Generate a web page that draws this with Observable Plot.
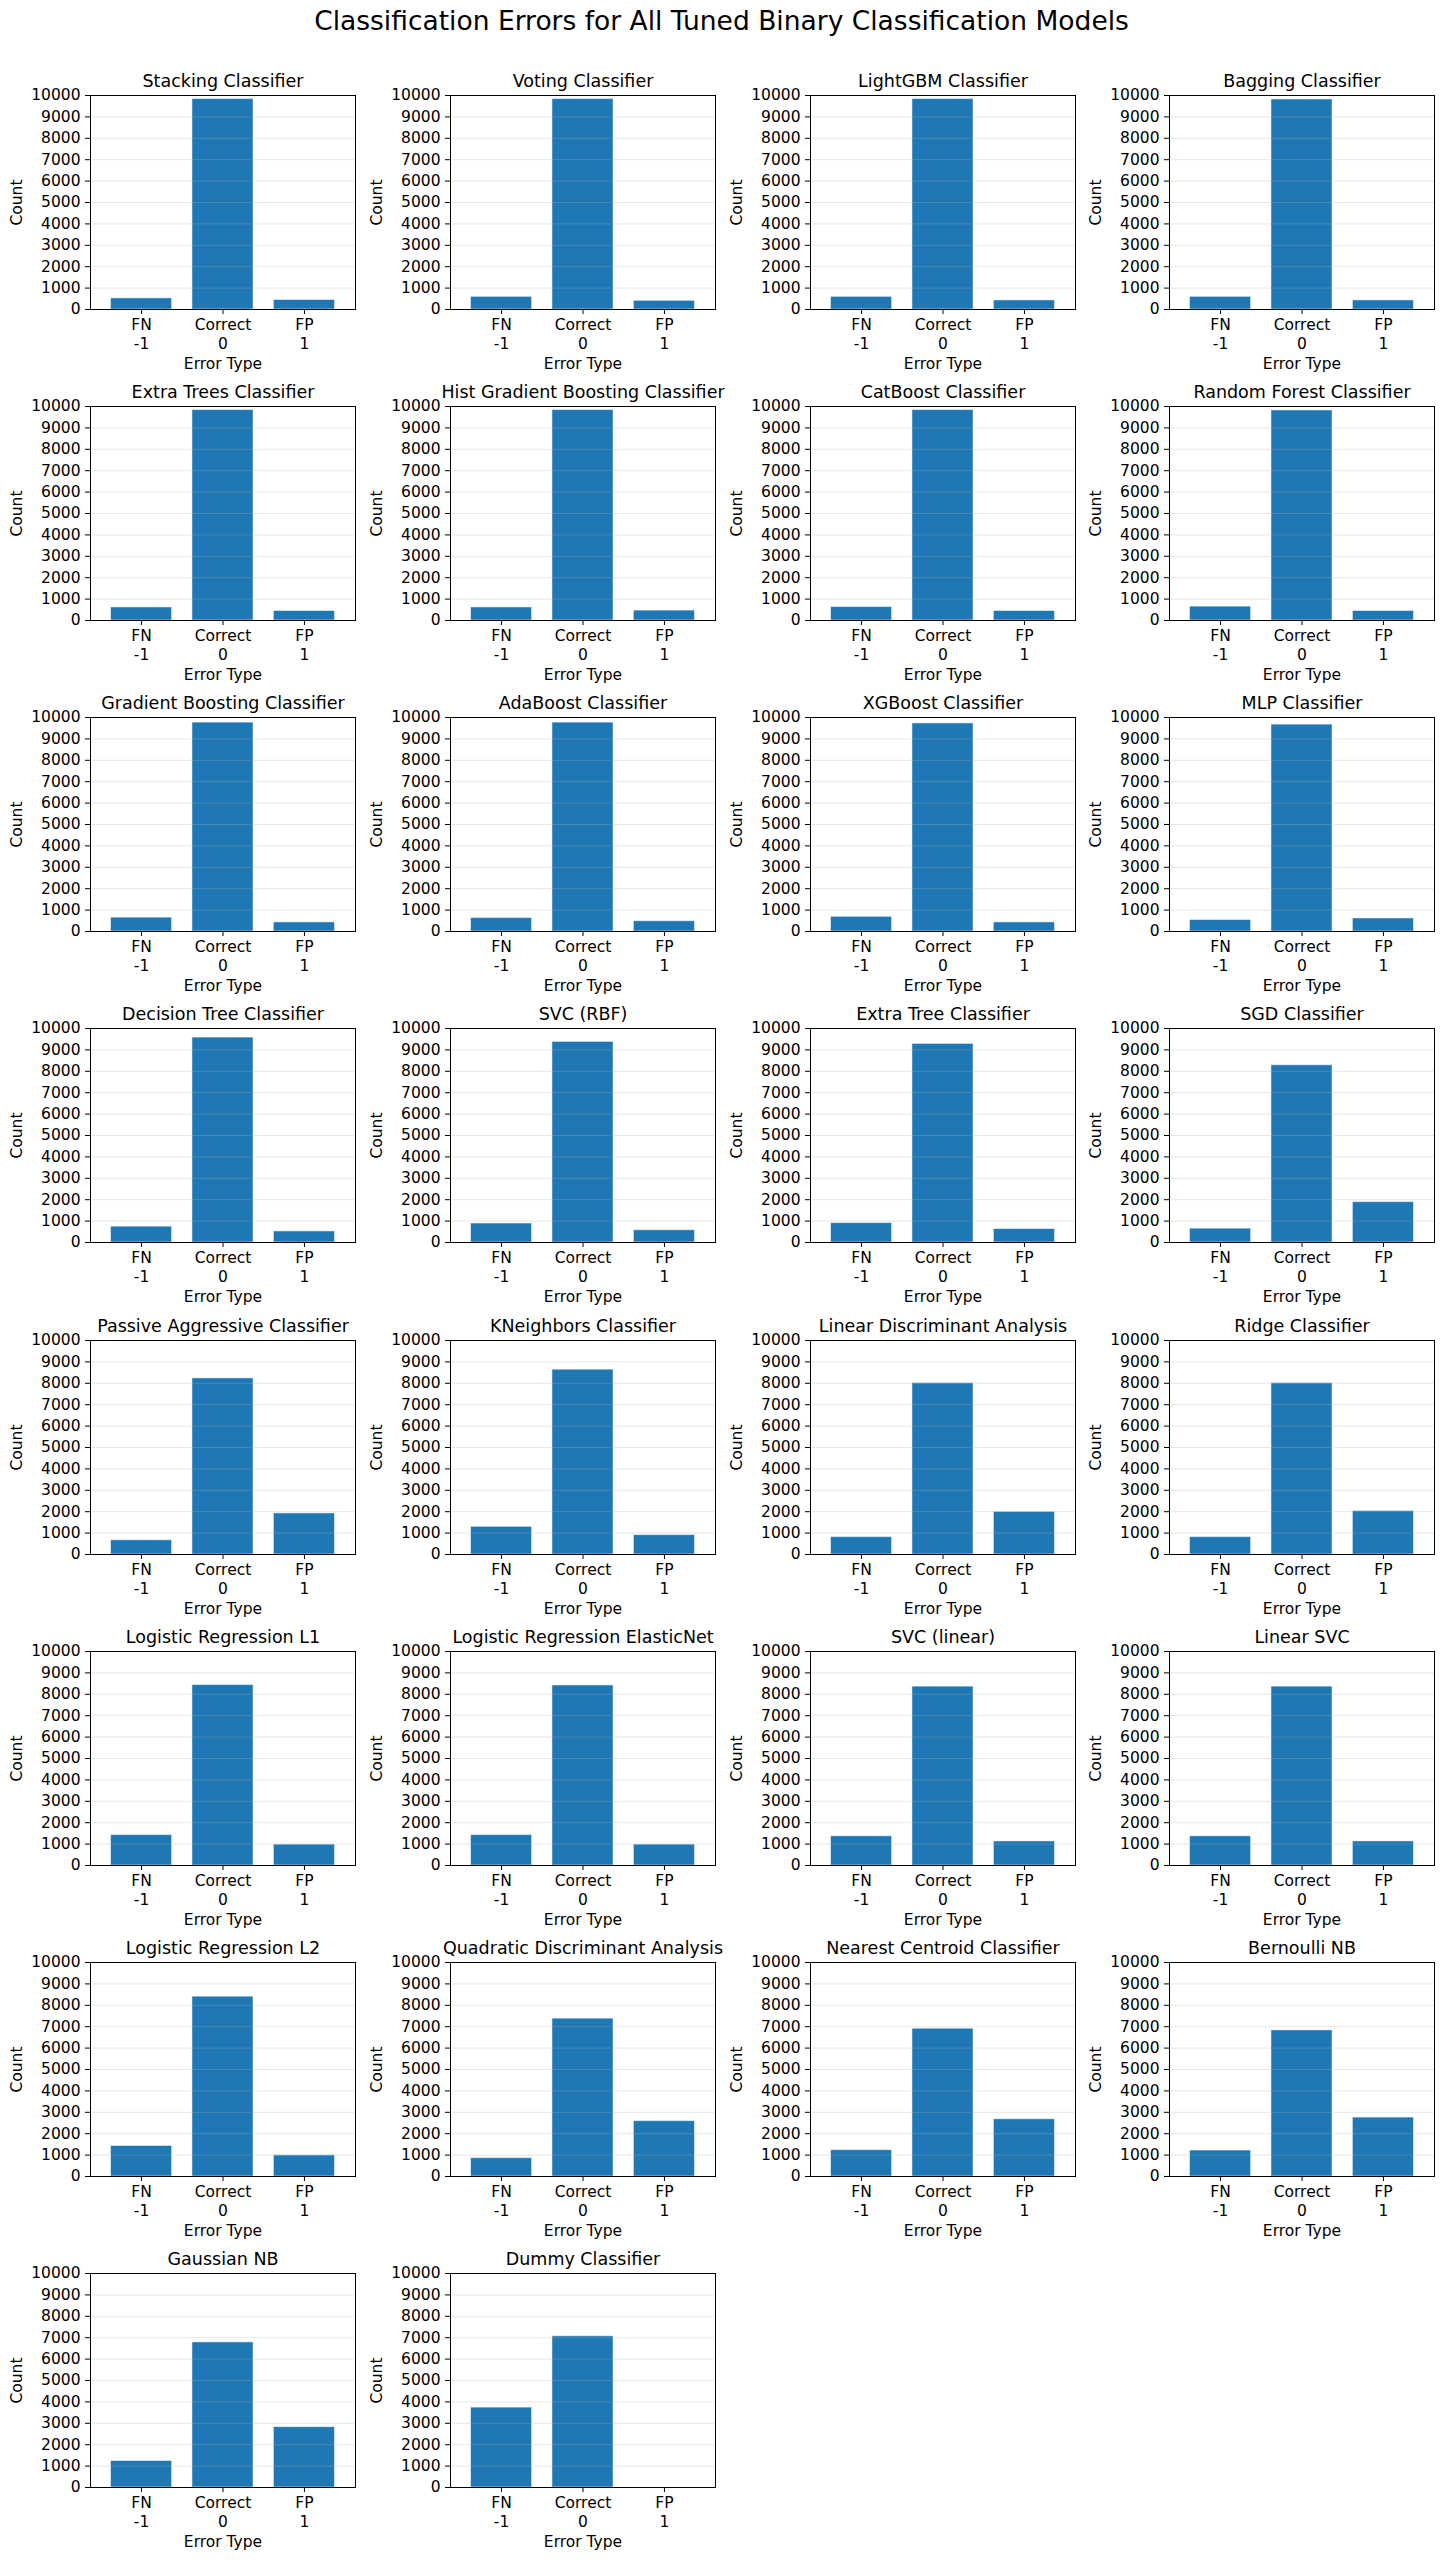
<!DOCTYPE html>
<html>
<head>
<meta charset="utf-8">
<script src="https://cdn.jsdelivr.net/npm/d3@7"></script>
<script src="https://cdn.jsdelivr.net/npm/@observablehq/plot@0.6"></script>
<style>
  html, body { margin: 0; padding: 0; background: #fff; }
  #fig { position: relative; width: 1443px; height: 2560px; background: #fff; font-family: "DejaVu Sans", sans-serif; color: #000; overflow: hidden; }
  #suptitle { position: absolute; left: 0; top: 5px; width: 1443px; text-align: center; font-size: 26.5px; line-height: 32px; white-space: nowrap; }
  .panel { position: absolute; }
  .panel svg { overflow: visible; max-width: none !important; display: block; font-family: "DejaVu Sans", sans-serif; }
</style>
</head>
<body>
<div id="fig">
  <div id="suptitle">Classification Errors for All Tuned Binary Classification Models</div>
</div>
<script>
const models = [
  "Stacking Classifier", "Voting Classifier", "LightGBM Classifier", "Bagging Classifier",
  "Extra Trees Classifier", "Hist Gradient Boosting Classifier", "CatBoost Classifier", "Random Forest Classifier",
  "Gradient Boosting Classifier", "AdaBoost Classifier", "XGBoost Classifier", "MLP Classifier",
  "Decision Tree Classifier", "SVC (RBF)", "Extra Tree Classifier", "SGD Classifier",
  "Passive Aggressive Classifier", "KNeighbors Classifier", "Linear Discriminant Analysis", "Ridge Classifier",
  "Logistic Regression L1", "Logistic Regression ElasticNet", "SVC (linear)", "Linear SVC",
  "Logistic Regression L2", "Quadratic Discriminant Analysis", "Nearest Centroid Classifier", "Bernoulli NB",
  "Gaussian NB", "Dummy Classifier"
];
const fnCounts = [
  520, 590, 590, 590,
  610, 610, 628, 647,
  647, 628, 684, 536,
  739, 887, 906, 647,
  664, 1292, 812, 812,
  1421, 1421, 1365, 1365,
  1426, 856, 1229, 1213,
  1238, 3733
];
const correctCounts = [
  9834, 9834, 9834, 9815,
  9834, 9834, 9834, 9815,
  9760, 9760, 9723, 9667,
  9575, 9372, 9279, 8281,
  8229, 8635, 8007, 8007,
  8432, 8413, 8358, 8358,
  8403, 7376, 6905, 6827,
  6781, 7067
];
const fpCounts = [
  443, 406, 424, 424,
  444, 462, 444, 444,
  425, 480, 425, 610,
  518, 573, 628, 1885,
  1919, 904, 1993, 2030,
  978, 978, 1125, 1125,
  989, 2586, 2675, 2753,
  2819, 0
];
const xCodes = [-1, 0, 1];
const xTickNames = ["FN", "Correct", "FP"];
const xTickCodes = ["-1", "0", "1"];
const yTicks = [0, 1000, 2000, 3000, 4000, 5000, 6000, 7000, 8000, 9000, 10000];

const ncols = 4;
const plotLeft0 = 90.4, colPitch = 359.55;
const plotTop0 = 94.8, rowPitch = 311.2;
const mL = 90, mR = 20, mT = 40, mB = 62;
const pw = 265, ph = 214;
const FF = "DejaVu Sans";

const fig = document.getElementById("fig");
models.forEach((name, k) => {
  const counts = [fnCounts[k], correctCounts[k], fpCounts[k]];
  const rows = xCodes.map((c, i) => ({code: c, count: counts[i], name: xTickNames[i], codeLabel: xTickCodes[i]}));
  const chart = Plot.plot({
    width: mL + pw + mR,
    height: mT + ph + mB,
    marginLeft: mL, marginRight: mR, marginTop: mT, marginBottom: mB,
    style: {fontFamily: FF, fontSize: "15.5px", color: "#000", background: "transparent", overflow: "visible", maxWidth: "none"},
    x: {domain: [-1.627, 1.627]},
    y: {domain: [0, 10000]},
    marks: [
      Plot.rectY(rows, {x1: d => d.code - 0.375, x2: d => d.code + 0.375, y1: 0, y2: "count",
        fill: "#1f77b4", stroke: "#ffffff", strokeOpacity: 0.5, strokeWidth: 1}),
      Plot.gridY(yTicks, {stroke: "#b0b0b0", strokeOpacity: 0.3, strokeWidth: 1}),
      Plot.frame({stroke: "#000", strokeWidth: 1}),
      Plot.axisY(yTicks, {tickSize: 5, tickPadding: 5, fontSize: 15.5, fontFamily: FF, label: null, tickFormat: d => String(d)}),
      Plot.axisX(xCodes, {tickSize: 5, label: null, tickFormat: () => ""}),
      Plot.text(rows, {x: "code", text: "name", frameAnchor: "bottom", dy: 16, fontSize: 15.5, fontFamily: FF, lineAnchor: "middle", textAnchor: "middle"}),
      Plot.text(rows, {x: "code", text: "codeLabel", frameAnchor: "bottom", dy: 34.5, fontSize: 15.5, fontFamily: FF, lineAnchor: "middle", textAnchor: "middle"}),
      Plot.text([name], {text: d => d, frameAnchor: "top", dy: -14, fontSize: 17.5, fontFamily: FF, lineAnchor: "middle", textAnchor: "middle"}),
      Plot.text(["Count"], {text: d => d, frameAnchor: "left", dx: -73.5, rotate: -90, fontSize: 15.5, fontFamily: FF, lineAnchor: "middle", textAnchor: "middle"}),
      Plot.text(["Error Type"], {text: d => d, frameAnchor: "bottom", dy: 55, fontSize: 15.5, fontFamily: FF, lineAnchor: "middle", textAnchor: "middle"})
    ]
  });
  const r = Math.floor(k / ncols), c = k % ncols;
  const wrap = document.createElement("div");
  wrap.className = "panel";
  wrap.style.left = (plotLeft0 + c * colPitch - mL) + "px";
  wrap.style.top = (plotTop0 + r * rowPitch - mT) + "px";
  wrap.style.width = (mL + pw + mR) + "px";
  wrap.style.height = (mT + ph + mB) + "px";
  wrap.appendChild(chart);
  fig.appendChild(wrap);
});
</script>
</body>
</html>
